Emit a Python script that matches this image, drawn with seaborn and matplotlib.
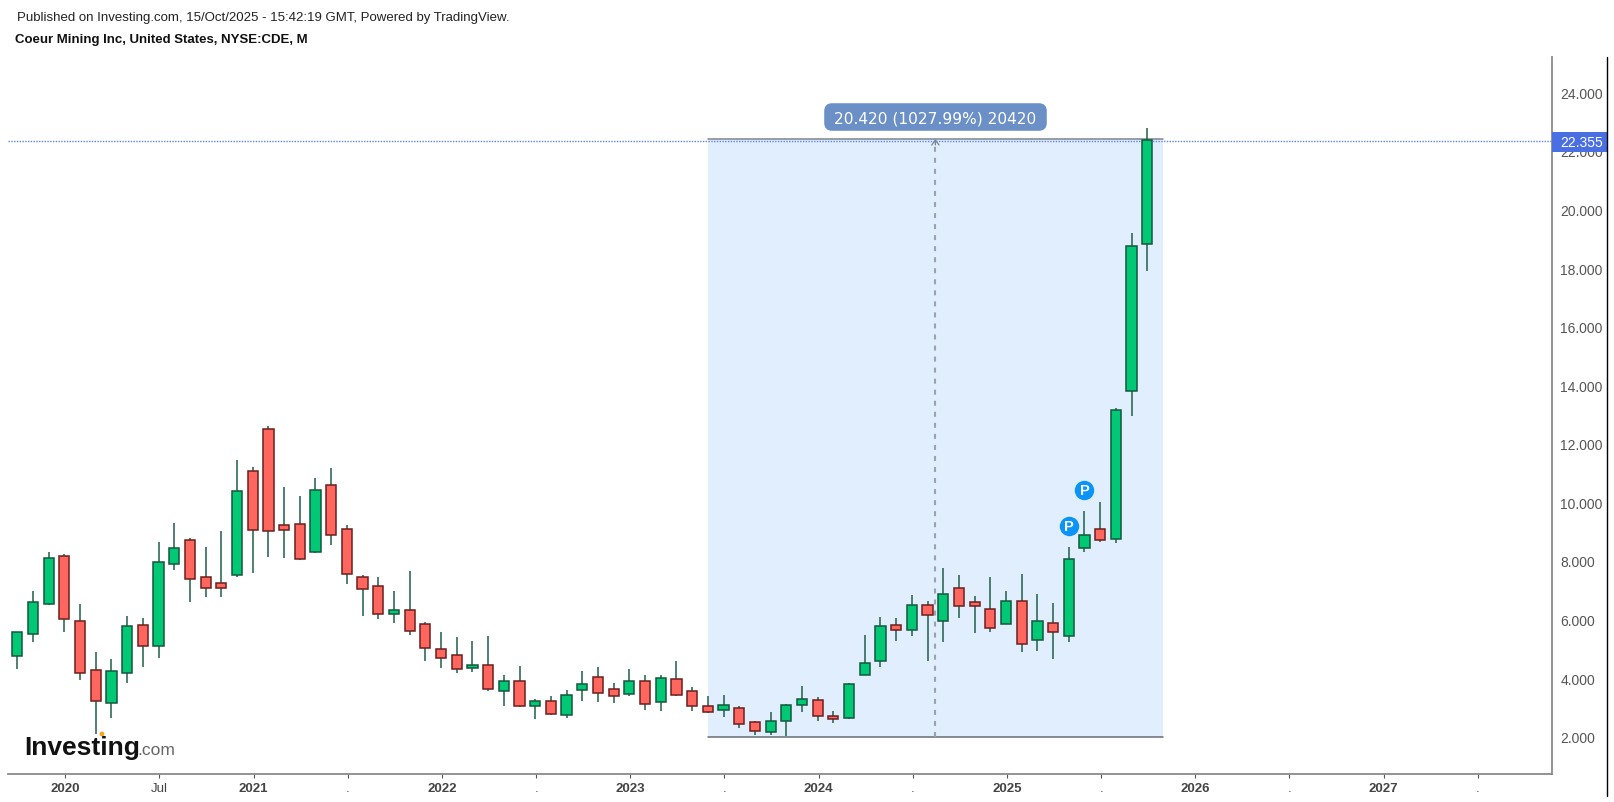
import matplotlib
matplotlib.use('Agg')
import matplotlib.pyplot as plt
import matplotlib.transforms as mtransforms
from matplotlib.lines import Line2D
from matplotlib.patches import Circle, FancyBboxPatch, Rectangle
import numpy as np
import pandas as pd
import seaborn as sns

# Monthly candles, Oct 2019 to Oct 2025
opens = [4.74, 5.51, 6.53, 8.17, 5.95, 4.28, 3.16, 4.19, 5.81, 5.09, 7.91, 8.72, 7.44, 7.24, 7.52, 11.06, 12.52,
         9.24, 9.27, 8.32, 10.59, 9.10, 7.44, 7.15, 6.19, 6.33, 5.86, 5.01, 4.79, 4.36, 4.45, 3.55, 3.89, 3.04,
         3.21, 2.73, 3.58, 4.03, 3.64, 3.46, 3.89, 3.20, 3.98, 3.55, 3.04, 2.90, 2.99, 2.49, 2.17, 2.52, 3.07,
         3.25, 2.70, 2.65, 4.11, 4.57, 5.81, 5.64, 6.50, 5.94, 7.09, 6.59, 6.37, 5.85, 6.63, 5.29, 5.89, 5.43,
         8.45, 9.10, 8.75, 13.79, 18.82]
highs = [5.56, 6.99, 8.29, 8.23, 6.52, 4.89, 4.64, 6.13, 6.04, 8.64, 9.30, 8.77, 8.47, 9.03, 11.46, 11.20, 12.62,
         10.51, 10.23, 10.82, 11.16, 9.24, 7.53, 7.45, 6.99, 7.67, 5.90, 5.56, 5.39, 5.28, 5.45, 4.12, 4.42, 3.28,
         3.40, 3.61, 4.25, 4.37, 3.82, 4.30, 4.12, 4.12, 4.60, 3.69, 3.40, 3.43, 3.06, 2.55, 2.83, 3.12, 3.74,
         3.34, 2.89, 3.82, 5.48, 6.08, 6.04, 6.85, 6.64, 7.75, 7.53, 6.82, 7.44, 6.99, 7.54, 6.86, 6.56, 8.46,
         9.72, 10.00, 13.21, 19.19, 22.77]
lows = [4.31, 5.25, 6.51, 5.59, 3.95, 2.09, 2.63, 3.83, 4.39, 4.69, 7.70, 6.61, 6.78, 6.78, 7.46, 7.58, 8.15,
        8.10, 8.05, 8.26, 8.56, 7.20, 6.13, 6.01, 5.87, 5.48, 4.60, 4.33, 4.16, 4.22, 3.57, 3.06, 3.03, 2.59,
        2.74, 2.63, 3.23, 3.20, 3.15, 3.40, 2.92, 2.89, 3.40, 2.89, 2.80, 2.68, 2.29, 2.07, 2.07, 2.01, 2.85,
        2.55, 2.47, 2.59, 4.11, 4.39, 5.28, 5.45, 4.60, 5.24, 6.04, 5.53, 5.59, 5.85, 4.90, 4.94, 4.65, 5.25,
        8.32, 8.66, 8.60, 12.96, 17.91]
closes = [5.56, 6.59, 8.09, 6.02, 4.19, 3.21, 4.23, 5.78, 5.09, 7.95, 8.45, 7.38, 7.09, 7.08, 10.39, 9.06, 9.01,
          9.05, 8.07, 10.43, 8.88, 7.57, 7.04, 6.19, 6.34, 5.60, 5.04, 4.70, 4.31, 4.45, 3.63, 3.89, 3.04, 3.21,
          2.76, 3.42, 3.81, 3.50, 3.38, 3.89, 3.12, 4.02, 3.42, 3.04, 2.85, 3.08, 2.43, 2.21, 2.52, 3.08, 3.30,
          2.70, 2.60, 3.81, 4.53, 5.77, 5.63, 6.49, 6.14, 6.88, 6.45, 6.47, 5.72, 6.62, 5.18, 5.94, 5.56, 8.08,
          8.89, 8.70, 13.15, 18.75, 22.37]

ytick_values = [2, 4, 6, 8, 10, 12, 14, 16, 18, 20, 22, 24]
xtick_months = [3, 9, 15, 21, 27, 33, 39, 45, 51, 57, 63, 69, 75, 81, 87, 93]
xtick_labels = ['2020', 'Jul', '2021', '.', '2022', '.', '2023', '.', '2024', '.', '2025', '.', '2026', '.', '2027', '.']

last_price = 22.355
range_low = 1.986
range_high = 22.406
range_start = 44.0
range_end = 73.0
range_label = '20.420 (1027.99%) 20420'

pivot_months = [67, 68]
pivot_prices = [9.18, 10.41]

GREEN = '#00c875'
RED = '#ff665e'
W, H = 1615, 803


def px_box(left, top, right, bottom):
    return [left / W, 1 - bottom / H, (right - left) / W, (bottom - top) / H]


sns.set_theme(style='white')
plt.rcParams['font.family'] = ['Liberation Sans', 'DejaVu Sans']

df = pd.DataFrame({'month': np.arange(len(opens)), 'open': opens, 'high': highs, 'low': lows, 'close': closes})
df['bottom'] = df[['open', 'close']].min(axis=1)
df['body'] = (df['close'] - df['open']).abs()

fig = plt.figure(figsize=(W / 100, H / 100), dpi=100, facecolor='white')
ax = fig.add_axes(px_box(8, 58, 1552, 775))

# measuring tool background
ax.add_patch(Rectangle((range_start, range_low), range_end - range_start, range_high - range_low,
                       facecolor='#e1eefe', edgecolor='none', zorder=0))
ax.plot([range_start, range_end], [range_low, range_low], color='#666e75', lw=1.1, zorder=1)
ax.plot([range_start, range_end], [range_high, range_high], color='#7d858c', lw=1.1, zorder=1)
mid = (range_start + range_end) / 2
ax.plot([mid, mid], [range_low, range_high - 0.2], color='#9aa3ad', lw=1.5, ls=(0, (2.4, 2.9)), zorder=1)
ax.annotate('', xy=(mid, range_high), xytext=(mid, range_high - 0.2),
            arrowprops=dict(arrowstyle='->,head_width=0.22,head_length=0.3', color='#7d858c', lw=0.9, shrinkA=0, shrinkB=0),
            zorder=1)

ax.axhline(last_price, color='#5f82e6', lw=1.0, ls=(0, (1, 1)), zorder=2)

# wicks then bodies
ax.vlines(df['month'], df['low'], df['high'], color='#1f5f48', lw=1.1, zorder=3)
up = df[df['close'] >= df['open']]
down = df[df['close'] < df['open']]
sns.barplot(x=up['month'], y=up['body'].values, bottom=up['bottom'].values, native_scale=True, color=GREEN,
            saturation=1, width=0.65, edgecolor='#14573e', linewidth=1.1, errorbar=None, zorder=4, ax=ax)
sns.barplot(x=down['month'], y=down['body'].values, bottom=down['bottom'].values, native_scale=True, color=RED,
            saturation=1, width=0.65, edgecolor='#6b1f1f', linewidth=1.1, errorbar=None, zorder=4, ax=ax)

ax.set_xlim(-0.593, 97.79)
ax.set_ylim(0.727, 25.206)
ax.set_xlabel('')
ax.set_ylabel('')

ax.yaxis.tick_right()
ax.set_yticks(ytick_values)
ax.set_yticklabels([f'{v:.3f}' for v in ytick_values])
ax.set_xticks(np.array(xtick_months) + 0.06)
ax.set_xticklabels(xtick_labels)
ax.tick_params(axis='y', length=3, width=0.8, color='#555555', labelcolor='#555555', labelsize=10, pad=3, right=True)
ax.tick_params(axis='x', length=3, width=0.8, color='#555555', labelcolor='#444444', labelsize=9.5, pad=3, bottom=True)
for label in ax.get_xticklabels():
    if label.get_text()[:2] == '20':
        label.set_fontweight('bold')

sns.despine(ax=ax, top=True, left=True, right=False, bottom=False)
for side in ['right', 'bottom']:
    ax.spines[side].set_color('#8a8a8a')
    ax.spines[side].set_linewidth(1.3)

# pivot badges
for month, price in zip(pivot_months, pivot_prices):
    ax.plot(month, price, 'o', ms=14, color='#0a94f7', mec='none', zorder=6)
    ax.text(month, price, 'P', color='white', fontsize=10.5, fontweight='bold', ha='center', va='center', zorder=7)

# last price tag on the axis
ax.add_patch(Rectangle((1.0, last_price - 0.38), 55 / 1544, 0.683, transform=ax.get_yaxis_transform(),
                       facecolor='#4a6fe3', edgecolor='none', clip_on=False, zorder=10))
ax.text(1.0 + 8 / 1544, last_price - 0.04, f'{last_price:.3f}', transform=ax.get_yaxis_transform(), color='white',
        fontsize=10, va='center', ha='left', zorder=11)

# measuring tool label
fig.add_artist(FancyBboxPatch((827, H - 129), 217, 22, boxstyle='round,pad=0,rounding_size=5',
                              mutation_aspect=1, facecolor='#6b8fc7', edgecolor='#6b8fc7', lw=4,
                              transform=mtransforms.IdentityTransform()))
fig.text(935.5 / W, 1 - 118.5 / H, range_label, color='white', fontsize=11.1, family='DejaVu Sans', ha='center', va='center')

# frame line on the far right
fig.add_artist(Line2D([1607 / W, 1607 / W], [1 - 58 / H, 1 - 797 / H], color='black', lw=1.0))

# header
fig.text(17 / W, 1 - 17.5 / H, 'Published on Investing.com, 15/Oct/2025 - 15:42:19 GMT, Powered by TradingView.',
         fontsize=9.5, color='#222222', ha='left', va='center')
fig.text(15 / W, 1 - 40.5 / H, 'Coeur Mining Inc, United States, NYSE:CDE, M', fontsize=9.5, fontweight='bold',
         color='#111111', ha='left', va='center')

# logo
fig.text(24.5 / W, 1 - 755 / H, 'Investing', fontsize=19, fontweight='bold', color='#111111', ha='left', va='baseline')
fig.text(137 / W, 1 - 755 / H, '.com', fontsize=12.5, color='#666666', ha='left', va='baseline')
fig.add_artist(Circle((102, H - 735), 2.4, facecolor='#f7a21b', edgecolor='none',
                      transform=mtransforms.IdentityTransform()))

fig.savefig('out.png', dpi=100)
